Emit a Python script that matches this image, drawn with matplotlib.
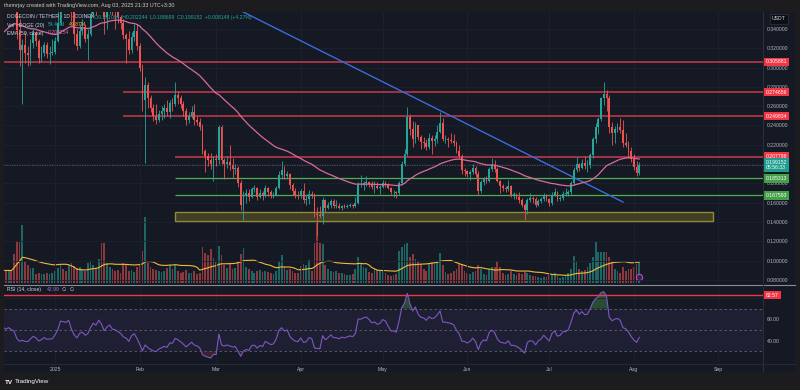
import numpy as np
import pandas as pd
import matplotlib
matplotlib.use("Agg")
import matplotlib.pyplot as plt
import matplotlib.dates as mdates
from matplotlib.patches import Rectangle
from matplotlib.ticker import FuncFormatter

# DOGE / USDT daily candles, 12 Dec 2024 - 3 Aug 2025 (close, high, low per month)
dec_c = [0.411, 0.412, 0.399, 0.409, 0.398, 0.387, 0.339, 0.318, 0.323, 0.315, 0.313, 0.325, 0.336, 0.328, 0.310, 0.315, 0.323, 0.314, 0.315, 0.316]
dec_h = [0.425, 0.420, 0.418, 0.412, 0.420, 0.404, 0.392, 0.350, 0.330, 0.337, 0.322, 0.330, 0.340, 0.338, 0.330, 0.322, 0.326, 0.327, 0.322, 0.330]
dec_l = [0.395, 0.400, 0.390, 0.392, 0.390, 0.380, 0.330, 0.302, 0.262, 0.305, 0.302, 0.303, 0.320, 0.322, 0.305, 0.306, 0.312, 0.310, 0.304, 0.313]

jan_c = [0.328, 0.346, 0.382, 0.380, 0.378, 0.386, 0.358, 0.335, 0.322, 0.338, 0.342, 0.330, 0.335, 0.356, 0.373, 0.367, 0.387, 0.375, 0.352, 0.366, 0.374, 0.360, 0.358, 0.352, 0.346, 0.334, 0.330, 0.318, 0.332, 0.338, 0.322]
jan_h = [0.332, 0.360, 0.385, 0.390, 0.384, 0.404, 0.395, 0.362, 0.340, 0.345, 0.350, 0.345, 0.340, 0.362, 0.380, 0.377, 0.404, 0.433, 0.385, 0.395, 0.382, 0.378, 0.368, 0.368, 0.354, 0.350, 0.336, 0.338, 0.337, 0.345, 0.345]
jan_l = [0.314, 0.326, 0.344, 0.372, 0.368, 0.372, 0.348, 0.324, 0.318, 0.320, 0.334, 0.326, 0.308, 0.333, 0.352, 0.355, 0.365, 0.360, 0.335, 0.340, 0.356, 0.355, 0.340, 0.346, 0.340, 0.330, 0.305, 0.314, 0.315, 0.328, 0.318]

feb_c = [0.300, 0.266, 0.282, 0.268, 0.258, 0.250, 0.246, 0.252, 0.255, 0.258, 0.254, 0.263, 0.262, 0.272, 0.268, 0.262, 0.255, 0.246, 0.250, 0.254, 0.246, 0.244, 0.238, 0.214, 0.208, 0.204, 0.200, 0.205]
feb_h = [0.325, 0.304, 0.290, 0.285, 0.272, 0.262, 0.262, 0.256, 0.260, 0.262, 0.266, 0.266, 0.268, 0.285, 0.276, 0.272, 0.265, 0.258, 0.254, 0.260, 0.262, 0.250, 0.248, 0.242, 0.216, 0.212, 0.212, 0.208]
feb_l = [0.296, 0.255, 0.201, 0.258, 0.254, 0.245, 0.242, 0.244, 0.246, 0.248, 0.250, 0.248, 0.255, 0.260, 0.262, 0.258, 0.250, 0.240, 0.243, 0.248, 0.240, 0.240, 0.235, 0.210, 0.192, 0.198, 0.195, 0.183]

mar_c = [0.204, 0.238, 0.204, 0.200, 0.202, 0.199, 0.195, 0.196, 0.180, 0.158, 0.167, 0.170, 0.166, 0.174, 0.175, 0.166, 0.170, 0.167, 0.175, 0.171, 0.167, 0.168, 0.175, 0.189, 0.194, 0.188, 0.190, 0.178, 0.172, 0.168, 0.167]
mar_h = [0.210, 0.240, 0.240, 0.206, 0.208, 0.220, 0.206, 0.200, 0.198, 0.184, 0.172, 0.174, 0.174, 0.176, 0.178, 0.176, 0.174, 0.172, 0.178, 0.176, 0.173, 0.171, 0.177, 0.193, 0.203, 0.198, 0.193, 0.191, 0.180, 0.175, 0.172]
mar_l = [0.198, 0.200, 0.200, 0.185, 0.196, 0.194, 0.186, 0.190, 0.176, 0.152, 0.142, 0.160, 0.162, 0.165, 0.171, 0.163, 0.165, 0.163, 0.166, 0.167, 0.165, 0.165, 0.167, 0.174, 0.185, 0.185, 0.185, 0.174, 0.168, 0.165, 0.164]

apr_c = [0.172, 0.163, 0.164, 0.169, 0.168, 0.148, 0.147, 0.146, 0.163, 0.155, 0.158, 0.162, 0.157, 0.157, 0.155, 0.157, 0.156, 0.157, 0.158, 0.157, 0.160, 0.178, 0.178, 0.180, 0.181, 0.179, 0.176, 0.177, 0.175, 0.176]
apr_h = [0.174, 0.180, 0.168, 0.173, 0.172, 0.170, 0.156, 0.157, 0.166, 0.164, 0.161, 0.164, 0.164, 0.163, 0.160, 0.158, 0.159, 0.159, 0.160, 0.159, 0.166, 0.181, 0.189, 0.182, 0.188, 0.183, 0.182, 0.182, 0.181, 0.178]
apr_l = [0.165, 0.160, 0.158, 0.159, 0.165, 0.145, 0.125, 0.144, 0.138, 0.150, 0.153, 0.155, 0.154, 0.155, 0.153, 0.152, 0.154, 0.155, 0.156, 0.154, 0.156, 0.159, 0.176, 0.173, 0.177, 0.176, 0.174, 0.170, 0.174, 0.169]

may_c = [0.180, 0.179, 0.175, 0.171, 0.171, 0.170, 0.180, 0.200, 0.210, 0.249, 0.236, 0.226, 0.240, 0.228, 0.223, 0.222, 0.218, 0.227, 0.224, 0.226, 0.233, 0.243, 0.226, 0.226, 0.225, 0.224, 0.222, 0.214, 0.208, 0.194, 0.193]
may_h = [0.184, 0.183, 0.180, 0.176, 0.173, 0.172, 0.183, 0.203, 0.216, 0.259, 0.252, 0.245, 0.244, 0.241, 0.230, 0.228, 0.226, 0.232, 0.230, 0.230, 0.240, 0.254, 0.248, 0.230, 0.228, 0.232, 0.231, 0.224, 0.220, 0.210, 0.196]
may_l = [0.175, 0.176, 0.174, 0.169, 0.166, 0.165, 0.168, 0.178, 0.198, 0.208, 0.230, 0.218, 0.222, 0.225, 0.216, 0.217, 0.215, 0.216, 0.210, 0.219, 0.222, 0.232, 0.224, 0.222, 0.218, 0.222, 0.219, 0.212, 0.206, 0.190, 0.188]

jun_c = [0.190, 0.192, 0.196, 0.190, 0.172, 0.181, 0.185, 0.183, 0.195, 0.199, 0.195, 0.183, 0.177, 0.175, 0.174, 0.177, 0.168, 0.168, 0.166, 0.163, 0.158, 0.152, 0.163, 0.165, 0.164, 0.158, 0.162, 0.164, 0.168, 0.164]
jun_h = [0.194, 0.194, 0.200, 0.198, 0.193, 0.184, 0.187, 0.188, 0.197, 0.206, 0.204, 0.197, 0.184, 0.179, 0.177, 0.184, 0.178, 0.171, 0.170, 0.171, 0.165, 0.160, 0.165, 0.170, 0.167, 0.166, 0.164, 0.166, 0.170, 0.169]
jun_l = [0.187, 0.184, 0.190, 0.187, 0.168, 0.170, 0.178, 0.180, 0.181, 0.193, 0.192, 0.181, 0.170, 0.172, 0.171, 0.172, 0.166, 0.164, 0.164, 0.160, 0.156, 0.142, 0.148, 0.161, 0.160, 0.156, 0.157, 0.160, 0.162, 0.162]

jul_c = [0.160, 0.168, 0.171, 0.164, 0.165, 0.169, 0.169, 0.171, 0.180, 0.194, 0.200, 0.196, 0.201, 0.198, 0.199, 0.209, 0.226, 0.238, 0.247, 0.268, 0.273, 0.268, 0.238, 0.232, 0.236, 0.238, 0.235, 0.222, 0.220, 0.214, 0.205]
jul_h = [0.165, 0.171, 0.175, 0.172, 0.167, 0.172, 0.175, 0.173, 0.182, 0.197, 0.207, 0.201, 0.205, 0.208, 0.204, 0.212, 0.228, 0.243, 0.249, 0.270, 0.285, 0.277, 0.272, 0.244, 0.239, 0.243, 0.248, 0.246, 0.232, 0.224, 0.218]
jul_l = [0.157, 0.158, 0.167, 0.162, 0.162, 0.163, 0.167, 0.167, 0.169, 0.178, 0.192, 0.193, 0.195, 0.195, 0.192, 0.196, 0.206, 0.222, 0.231, 0.245, 0.261, 0.255, 0.232, 0.220, 0.222, 0.233, 0.232, 0.218, 0.218, 0.206, 0.202]

aug_c = [0.197, 0.191004, 0.199152]
aug_h = [0.210, 0.203, 0.202244]
aug_l = [0.194, 0.188, 0.188699]

# volume, millions of DOGE
dec_v = [36, 31, 31, 34, 31, 75, 109, 109, 151, 57, 47, 39, 39, 23, 26, 23, 23, 26, 23, 26]
jan_v = [31, 39, 49, 36, 31, 47, 52, 44, 39, 42, 34, 31, 52, 57, 47, 39, 62, 104, 104, 52, 42, 36, 31, 34, 26, 52, 47, 31, 34, 29, 42]
feb_v = [47, 83, 174, 52, 42, 36, 34, 31, 29, 31, 39, 47, 36, 47, 31, 26, 29, 34, 26, 26, 31, 23, 26, 94, 78, 73, 88, 65]
mar_v = [57, 96, 73, 47, 39, 52, 36, 39, 57, 75, 91, 42, 36, 31, 26, 31, 34, 29, 31, 29, 26, 23, 31, 57, 73, 42, 34, 36, 31, 26, 26]
apr_v = [44, 49, 47, 60, 31, 104, 156, 104, 101, 47, 36, 31, 29, 31, 26, 26, 23, 21, 21, 23, 36, 68, 52, 42, 39, 29, 26, 36, 34, 31]
may_v = [31, 26, 21, 18, 21, 23, 83, 94, 101, 104, 68, 75, 62, 57, 49, 36, 31, 52, 55, 52, 57, 78, 47, 29, 23, 26, 31, 36, 49, 49, 31]
jun_v = [26, 23, 29, 31, 47, 36, 23, 21, 36, 42, 42, 57, 42, 26, 21, 23, 31, 23, 21, 26, 23, 29, 26, 21, 18, 18, 16, 13, 16, 16]
jul_v = [21, 23, 26, 18, 13, 16, 21, 26, 36, 70, 57, 36, 31, 34, 42, 52, 68, 107, 81, 81, 81, 81, 68, 57, 36, 31, 26, 42, 31, 36, 36]
aug_v = [42, 49, 54.44]

first_open = 0.404      # close of 11 Dec
ema_seed = 0.330        # EMA(50) value on 11 Dec
rsi_gain_seed = 0.016   # Wilder averages on 11 Dec
rsi_loss_seed = 0.015

# drawn levels
res_levels = [0.305881, 0.274656, 0.249834, 0.207798]
res_start = ["2024-12-01", "2025-01-26", "2025-01-26", "2025-02-14"]
sup_levels = [0.185313, 0.167593]
sup_start = "2025-02-14"
zone_low, zone_high = 0.1413, 0.1500
zone_dates = ["2025-02-14", "2025-08-30"]
trend_dates = ["2025-03-05", "2025-07-28"]
trend_prices = [0.366, 0.1607]
last_price = 0.199152
rsi_level = 82.57

month_ticks = ["2025-01-01", "2025-02-01", "2025-03-01", "2025-04-01", "2025-05-01",
               "2025-06-01", "2025-07-01", "2025-08-01", "2025-09-01"]
month_labels = ["2025", "Feb", "Mar", "Apr", "May", "Jun", "Jul", "Aug", "Sep"]

close = np.array(dec_c + jan_c + feb_c + mar_c + apr_c + may_c + jun_c + jul_c + aug_c)
high = np.array(dec_h + jan_h + feb_h + mar_h + apr_h + may_h + jun_h + jul_h + aug_h)
low = np.array(dec_l + jan_l + feb_l + mar_l + apr_l + may_l + jun_l + jul_l + aug_l)
volume = np.array(dec_v + jan_v + feb_v + mar_v + apr_v + may_v + jun_v + jul_v + aug_v, dtype=float)
opens = np.r_[first_open, close[:-1]]
high = np.maximum(high, np.maximum(opens, close))
low = np.minimum(low, np.minimum(opens, close))
dates = mdates.date2num(pd.date_range("2024-12-12", periods=len(close), freq="D"))

# indicators
ema = np.empty(len(close))
e = ema_seed
for i, c in enumerate(close):
    e = e + 2.0 / 51 * (c - e)
    ema[i] = e

rsi = np.empty(len(close))
ag, al, prev = rsi_gain_seed, rsi_loss_seed, first_open
for i, c in enumerate(close):
    d = c - prev
    ag = (ag * 13 + max(d, 0)) / 14
    al = (al * 13 + max(-d, 0)) / 14
    rsi[i] = 100 - 100 / (1 + ag / al)
    prev = c

vol_ma = pd.Series(volume).rolling(20, min_periods=1).mean().values

# colours
BG = "#151924"
GRID = "#1e2230"
UP = "#26a69a"
DOWN = "#ef5350"
TXT = "#b2b5be"
plt.rcParams['font.family'] = ['Liberation Sans', 'DejaVu Sans']

W, H = 800, 390
def box(x0, y0, x1, y1):
    return [x0 / W, 1 - y1 / H, (x1 - x0) / W, (y1 - y0) / H]

fig = plt.figure(figsize=(8, 3.9), dpi=100, facecolor="#1c1c1e")
fig.patches.append(Rectangle((4 / W, 1 - 372 / H), 791 / W, 360 / H, transform=fig.transFigure,
                             fc=BG, ec="none", zorder=-10))

x0 = mdates.date2num(pd.Timestamp("2025-01-01"))
xlim = (x0 - 18.7, x0 + 259.3)

# volume underneath the price pane
axv = fig.add_axes(box(4, 12, 763, 283))
axv.set_facecolor("none")
up = close >= opens
vcol = np.where(up, UP, DOWN)
axv.bar(dates, volume, width=0.65, color=vcol, alpha=0.55, linewidth=0)
axv.plot(dates, vol_ma, color="#f0b93a", lw=0.8)
axv.plot(dates[-1], 16, marker="o", ms=4.5, mfc="#3a1f4a", mec="#b04fd0", mew=0.8)
axv.set_ylim(0, 710)
axv.set_xlim(xlim)
axv.axis("off")

ax = fig.add_axes(box(4, 12, 763, 283), sharex=axv)
ax.set_facecolor("none")
ax.set_ylim(0.0768, 0.3576)
ax.set_xlim(xlim)
ticks = [mdates.date2num(pd.Timestamp(t)) for t in month_ticks]
ax.set_xticks(ticks)
ax.grid(True, color=GRID, lw=0.6, zorder=0)
ax.tick_params(axis="x", length=0, labelbottom=False)
ax.yaxis.tick_right()
ax.set_yticks(np.arange(0.08, 0.3401, 0.02))
# 0.200000 sits under the last-price tag
ax.yaxis.set_major_formatter(FuncFormatter(lambda v, p: "" if abs(v - 0.20) < 1e-6 else "%.6f" % v))
ax.tick_params(axis="y", length=0, pad=3, labelsize=3.7, labelcolor=TXT)
for s in ax.spines.values():
    s.set_visible(False)

# candles
ccol = np.where(up, UP, DOWN)
ax.vlines(dates, low, high, color=ccol, lw=0.6, zorder=3)
body = np.maximum(np.abs(close - opens), 0.0006)
ax.bar(dates, body, bottom=np.minimum(opens, close), width=0.65, color=ccol, linewidth=0, zorder=4)
ax.plot(dates, ema, color="#d96a9e", lw=0.9, zorder=5)

# levels, zone and trendline
right = xlim[1]
for lev, st in zip(res_levels, res_start):
    ax.hlines(lev, mdates.date2num(pd.Timestamp(st)), right, color="#c93a4a", lw=1.1, zorder=2)
for lev in sup_levels:
    ax.hlines(lev, mdates.date2num(pd.Timestamp(sup_start)), right, color="#4caf50", lw=0.9, zorder=2)
zs, ze = [mdates.date2num(pd.Timestamp(d)) for d in zone_dates]
ax.add_patch(Rectangle((zs, zone_low), ze - zs, zone_high - zone_low, fc="#403e24", ec="#8f893a",
                       lw=1.0, zorder=2))
td = [mdates.date2num(pd.Timestamp(d)) for d in trend_dates]
ax.plot(td, trend_prices, color="#3d6bd9", lw=1.0, zorder=2)
ax.axhline(last_price, color="#5d606b", lw=0.6, ls=(0, (1.5, 1.5)), zorder=1)

def price_tag(a, y, txt, col):
    a.text(1.004, y, txt, transform=a.get_yaxis_transform(), ha="left", va="center", fontsize=3.7,
           color="white", zorder=10, clip_on=False, linespacing=1.15,
           bbox=dict(boxstyle="square,pad=0.35", fc=col, ec="none"))

for lev in res_levels:
    price_tag(ax, lev, "%.6f" % lev, "#f23645")
price_tag(ax, last_price, "%.6f\n05:56:33" % last_price, "#1f9e8f")
for lev in sup_levels:
    price_tag(ax, lev, "%.6f" % lev, "#43a047")

# RSI pane
axr = fig.add_axes(box(4, 287, 763, 363), sharex=axv)
axr.set_facecolor("none")
axr.set_ylim(19.1, 90.2)
axr.set_xlim(xlim)
axr.fill_between(xlim, 30, 70, color="#7e57c2", alpha=0.1, lw=0)
for lv in (70, 50, 30):
    axr.axhline(lv, color="#60636e", lw=0.6, ls=(0, (3, 3)))
axr.axhline(rsi_level, color="#f23645", lw=1.0)
axr.fill_between(dates, 70, rsi, where=rsi > 70, interpolate=True, color="#4caf50", alpha=0.35, lw=0)
axr.fill_between(dates, 30, rsi, where=rsi < 30, interpolate=True, color="#ef5350", alpha=0.18, lw=0)
axr.plot(dates, rsi, color="#7e57c2", lw=0.8)
axr.grid(True, color=GRID, lw=0.6)
axr.set_xticks(ticks)
axr.set_xticklabels(month_labels)
axr.tick_params(axis="x", length=0, pad=3, labelsize=3.7, labelcolor=TXT)
axr.yaxis.tick_right()
axr.set_yticks([40, 60, 80])
# 80.00 sits under the 82.57 tag
axr.yaxis.set_major_formatter(FuncFormatter(lambda v, p: "" if v > 70 else "%.2f" % v))
axr.tick_params(axis="y", length=0, pad=3, labelsize=3.7, labelcolor=TXT)
for s in axr.spines.values():
    s.set_visible(False)
price_tag(axr, rsi_level, "%.2f" % rsi_level, "#f23645")

# separators
fig.add_artist(plt.Line2D([4 / W, 795 / W], [1 - 284.5 / H] * 2, color="#8a8d96", lw=0.8))
fig.add_artist(plt.Line2D([763 / W, 763 / W], [1 - 372 / H, 1 - 12 / H], color="#2a2e39", lw=0.8))
fig.add_artist(plt.Line2D([4 / W, 795 / W], [1 - 363.5 / H] * 2, color="#2a2e39", lw=0.6))

# texts
fig.text(4 / W, 1 - 5.5 / H, "themrjay created with TradingView.com, Aug 03, 2025 21:33 UTC+3:30",
         fontsize=3.9, color="#c9cbd1", va="center")
fig.text(7 / W, 1 - 17 / H, "DOGECOIN / TETHER · 1D · COINEX", fontsize=3.7, color="#d1d4dc", va="center")
fig.text(94 / W, 1 - 17 / H, "O0.191004  H0.202244  L0.188699  C0.199152  +0.008148 (+4.27%)",
         fontsize=3.7, color=UP, va="center")
fig.text(7 / W, 1 - 25 / H, "Vol · DOGE (20)", fontsize=3.7, color="#d1d4dc", va="center")
fig.text(48 / W, 1 - 25 / H, "54.44M", fontsize=3.7, color=UP, va="center")
fig.text(69 / W, 1 - 25 / H, "49.87M", fontsize=3.7, color="#f0b93a", va="center")
fig.text(7 / W, 1 - 33 / H, "EMA (50, close)", fontsize=3.7, color="#d1d4dc", va="center")
fig.text(48 / W, 1 - 33 / H, "0.208254", fontsize=3.7, color="#d96a9e", va="center")
fig.text(7 / W, 1 - 289.5 / H, "RSI (14, close)", fontsize=3.7, color="#d1d4dc", va="center")
fig.text(47 / W, 1 - 289.5 / H, "42.99", fontsize=3.7, color="#9575cd", va="center")
fig.text(62 / W, 1 - 289.5 / H, "∅  ∅", fontsize=3.7, color="#d1d4dc", va="center",
         family=["DejaVu Sans"])
fig.text(779 / W, 1 - 19 / H, "USDT", fontsize=3.7, color="#d1d4dc", va="center", ha="center",
         bbox=dict(boxstyle="square,pad=0.5", fc="#0d0f15", ec="#30343f", lw=0.5))
fig.text(5 / W, 1 - 382 / H, "TV", fontsize=4.5, color="white", va="center", weight="bold")
fig.text(15 / W, 1 - 382 / H, "TradingView", fontsize=4.5, color="white", va="center")

fig.savefig("out.png", dpi=100, facecolor=fig.get_facecolor())
